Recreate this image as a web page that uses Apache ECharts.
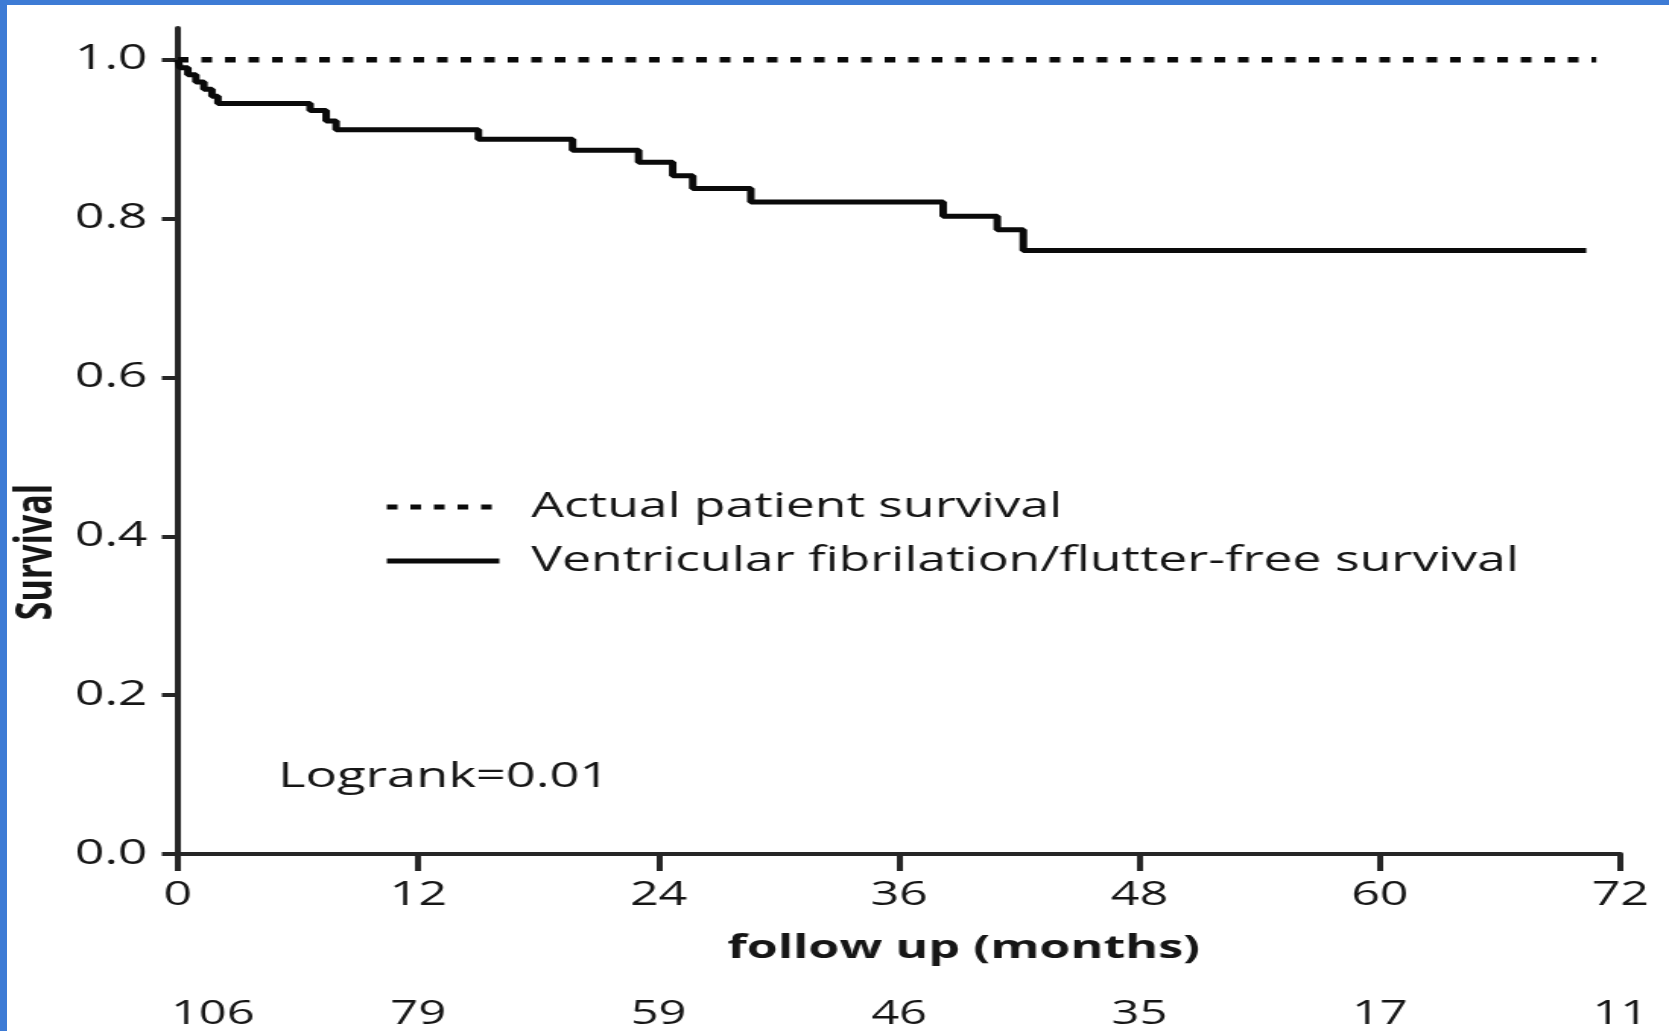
<!DOCTYPE html>
<html>
<head>
<meta charset="utf-8">
<title>Survival</title>
<script src="https://cdn.jsdelivr.net/npm/echarts@6/dist/echarts.min.js"></script>
<style>
  html, body { margin: 0; padding: 0; background: #ffffff; overflow: hidden; }
  body { width: 1669px; height: 1031px; position: relative; }
  /* the figure is drawn narrow and widened, so glyphs come out broad like the print */
  #chart {
    position: absolute; left: 0; top: 0;
    width: 1098px; height: 1031px;
    transform: scaleX(1.52); transform-origin: 0 0;
  }
  .frame { position: absolute; background: #3d7bd5; z-index: 2; }
  #frameTop { left: 0; top: 0; width: 1669px; height: 5px; }
  #frameLeft { left: 0; top: 0; width: 7px; height: 1031px; }
</style>
</head>
<body>
<div id="chart"></div>
<div class="frame" id="frameTop"></div>
<div class="frame" id="frameLeft"></div>
<script>
// Kaplan-Meier step points: follow-up month of each drop and survival after it
const vfMonths   = [0, 0.1, 0.5, 0.9, 1.3, 1.7, 2.0, 6.6, 7.4, 7.9, 15.0, 19.7, 23.0, 24.7, 25.7, 28.6, 38.2, 40.9, 42.2, 70.3];
const vfSurvival = [1.0, 0.990, 0.981, 0.972, 0.963, 0.954, 0.945, 0.936, 0.923, 0.912, 0.900, 0.886, 0.871, 0.854, 0.838, 0.821, 0.803, 0.786, 0.760, 0.760];

// overall patient survival stays at 1.0 through follow-up
const actualMonths   = [0, 70.8];
const actualSurvival = [1.0, 1.0];

// x ticks every 12 months and patients at risk at each of them
const monthTicks = [0, 12, 24, 36, 48, 60, 72];
const atRisk     = [106, 79, 59, 46, 35, 17, 11];
const survivalTicks = [0, 0.2, 0.4, 0.6, 0.8, 1.0];

const seriesNames = ['Actual patient survival', 'Ventricular fibrilation/flutter-free survival'];
const logrankText = 'Logrank=0.01';

const FONT = '"Open Sans", "Noto Sans", sans-serif';
const INK = '#161616';
const LINE = '#0a0a0a';
const AXIS = '#262626';

function pairs(xs, ys) { return xs.map((x, i) => [x, ys[i]]); }

const chart = echarts.init(document.getElementById('chart'), null, { renderer: 'canvas' });

chart.setOption({
  animation: false,
  backgroundColor: 'transparent',
  grid: { left: 117, right: 32, top: 28, bottom: 177, containLabel: false, outerBoundsMode: 'none' },
  legend: {
    orient: 'vertical',
    left: 247, top: 482,
    itemWidth: 74, itemHeight: 2, itemGap: 14,
    selectedMode: false,
    itemStyle: { color: 'transparent', borderWidth: 0, opacity: 0 },
    lineStyle: { width: 5 },
    textStyle: { fontFamily: FONT, fontSize: 34, fontWeight: 500, color: INK,
                 lineHeight: 40, padding: [0, 0, 0, 16] },
    data: seriesNames
  },
  xAxis: [
    {
      type: 'value', min: 0, max: 72, interval: 12,
      position: 'bottom',
      splitLine: { show: false },
      axisLine: { onZero: false, lineStyle: { color: AXIS, width: 4 } },
      axisTick: { length: 17, lineStyle: { color: AXIS, width: 4 } },
      axisLabel: { margin: 25, fontFamily: FONT, fontSize: 33, fontWeight: 500, color: INK,
                   customValues: monthTicks },
      name: 'follow up (months)',
      nameLocation: 'middle', nameGap: 75,
      nameTextStyle: { fontFamily: FONT, fontSize: 33, fontWeight: 'bold', color: INK,
                       lineHeight: 40, padding: [0, 0, 0, 85] }
    },
    {
      type: 'value', min: 0, max: 72, interval: 12,
      position: 'bottom', offset: 120,
      splitLine: { show: false },
      axisLine: { show: false },
      axisTick: { show: false },
      axisLabel: {
        margin: 25, fontFamily: FONT, fontSize: 32, fontWeight: 500, color: INK,
        formatter: v => {
          const i = monthTicks.indexOf(v);
          if (i < 0) return '';
          return i === 0 ? '{first|' + atRisk[i] + '}' : String(atRisk[i]);
        },
        rich: {
          first: { fontFamily: FONT, fontSize: 32, fontWeight: 500, color: INK, padding: [0, 0, 0, 46] }
        }
      }
    }
  ],
  yAxis: {
    type: 'value', min: 0, max: 1.04, interval: 0.2,
    splitLine: { show: false },
    axisLine: { lineStyle: { color: AXIS, width: 4 } },
    axisTick: { length: 10.5, customValues: survivalTicks, lineStyle: { color: AXIS, width: 4 } },
    axisLabel: { margin: 20, fontFamily: FONT, fontSize: 34, fontWeight: 500, color: INK,
                 customValues: survivalTicks, formatter: v => v.toFixed(1) },
    name: 'Survival',
    nameLocation: 'middle', nameGap: 73, nameMoveOverlap: false,
    nameTextStyle: { fontFamily: FONT, fontSize: 34, fontWeight: 'bold', color: INK,
                     lineHeight: 40, padding: [0, 222, 0, 0] }
  },
  graphic: [
    {
      type: 'text', x: 183, y: 777,
      style: { text: logrankText, fontFamily: FONT, fontSize: 34.5, fontWeight: 500,
               fill: INK, verticalAlign: 'middle' }
    }
  ],
  series: [
    {
      name: seriesNames[0],
      type: 'line',
      xAxisIndex: 0,
      data: pairs(actualMonths, actualSurvival),
      symbol: 'none',
      lineStyle: { color: LINE, width: 5.5, type: [7, 8.5], cap: 'butt' },
      itemStyle: { color: LINE },
      z: 3
    },
    {
      name: seriesNames[1],
      type: 'line',
      xAxisIndex: 0,
      step: 'end',
      data: pairs(vfMonths, vfSurvival),
      symbol: 'none',
      lineStyle: { color: LINE, width: 5, type: 'solid' },
      itemStyle: { color: LINE },
      z: 4
    }
  ]
});
</script>
</body>
</html>
